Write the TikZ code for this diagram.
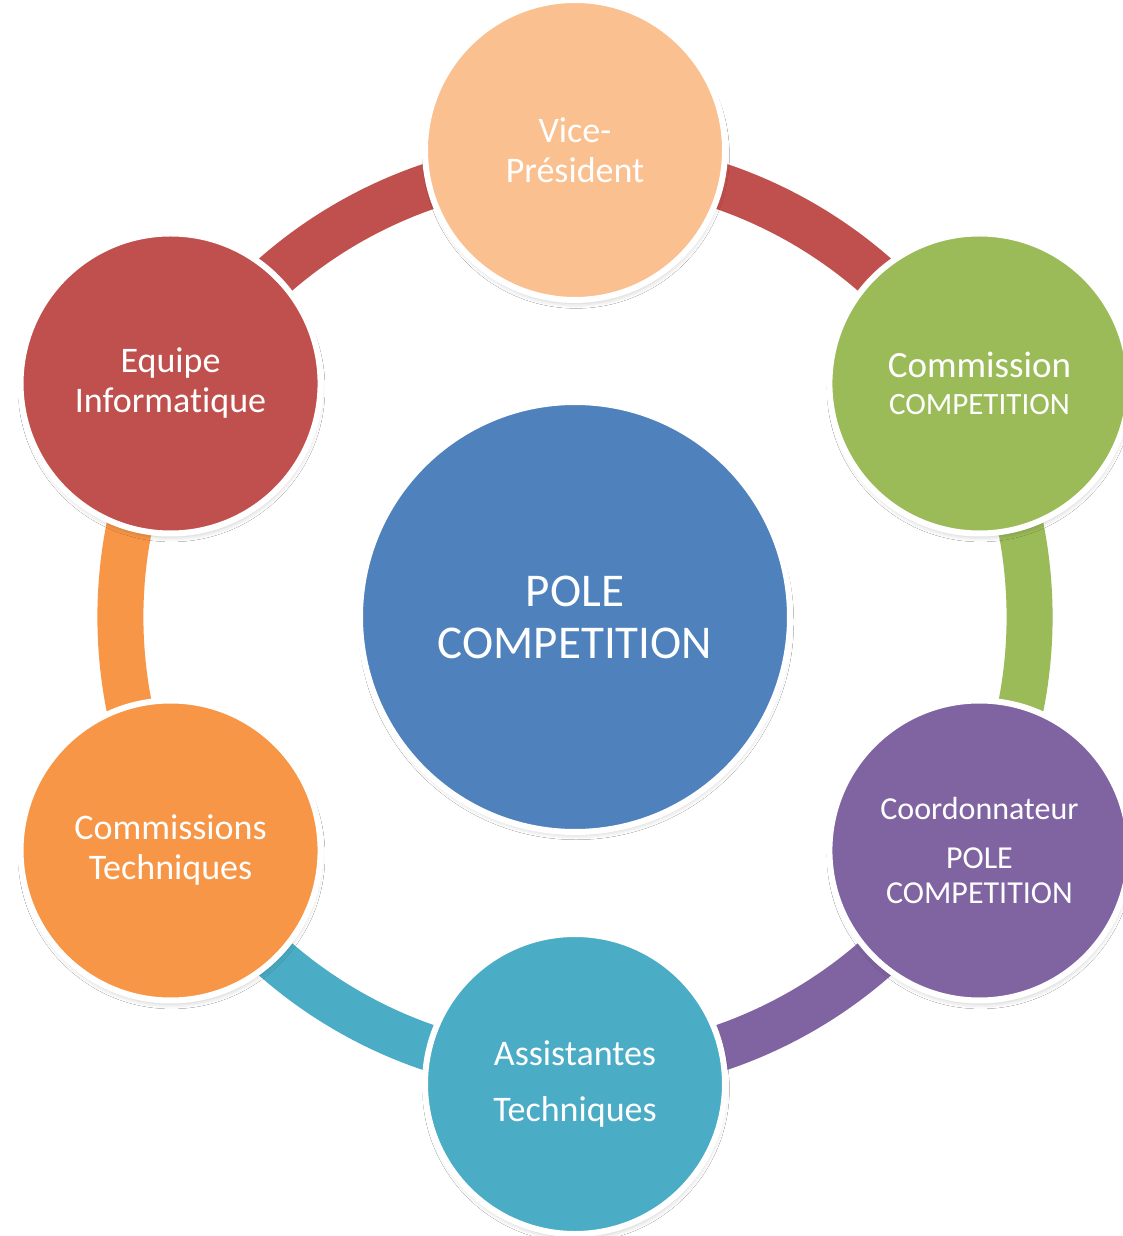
\documentclass[tikz,border=0pt]{standalone}
\usepackage{fontspec}
\setmainfont{Carlito}[Ligatures={NoCommon,NoRequired,NoContextual}]
\usetikzlibrary{shadows.blur}
\definecolor{poleblue}{HTML}{4F81BD}
\definecolor{vplight}{HTML}{FAC090}
\definecolor{compgreen}{HTML}{9BBB59}
\definecolor{coordpurple}{HTML}{8064A2}
\definecolor{assistteal}{HTML}{4BACC6}
\definecolor{techorange}{HTML}{F79646}
\definecolor{infored}{HTML}{C0504D}

\begin{document}
\begin{tikzpicture}[x=0.5pt, y=0.5pt,
    bubble/.style={circle, draw=white, line width=3pt, minimum size=150pt, inner sep=0pt,
      text=white, align=center, font=\fontsize{18}{20}\selectfont,
      blur shadow={shadow xshift=0.5pt, shadow yshift=-2.5pt, shadow scale=0.99, shadow blur radius=2.5pt, shadow opacity=22}},
    ring/.style={line width=23pt, bend left=30, looseness=0.91}]
              \useasboundingbox (-575,-619) rectangle (548,617);
              \fill[white] (-575,-619) rectangle (548,617);

              \coordinate (vp-r) at (90:455);
              \coordinate (cc-r) at (30:455);
              \coordinate (coord-r) at (-30:455);
              \coordinate (at-r) at (-90:455);
              \coordinate (ct-r) at (-150:455);
              \coordinate (ei-r) at (150:455);

              \draw[ring, infored] (ei-r) to (vp-r);
              \draw[ring, infored] (vp-r) to (cc-r);
              \draw[ring, compgreen] (cc-r) to (coord-r);
              \draw[ring, coordpurple] (coord-r) to (at-r);
              \draw[ring, assistteal] (at-r) to (ct-r);
              \draw[ring, techorange] (ct-r) to (ei-r);

              \node[bubble, fill=poleblue, minimum size=215pt, font=\fontsize{23.5}{26}\selectfont] (pole) at (0,0) {POLE\\COMPETITION};
              \node[bubble, fill=vplight] (vp) at (90:467) {Vice-\\Président};
              \node[bubble, fill=compgreen, font=\fontsize{18.5}{18.5}\selectfont] (cc) at (30:467) {Commission\\{\fontsize{15.5}{17}\selectfont COMPETITION}};
              \node[bubble, fill=coordpurple, font=\fontsize{16}{17.5}\selectfont] (coord) at (-30:467) {Coordonnateur\\[7pt]POLE\\COMPETITION};
              \node[bubble, fill=assistteal] (at) at (-90:467) {Assistantes\\[8pt]Techniques};
              \node[bubble, fill=techorange] (ct) at (-150:467) {Commissions\\Techniques};
              \node[bubble, fill=infored] (ei) at (150:467) {Equipe\\Informatique};
            \end{tikzpicture}
\end{document}
